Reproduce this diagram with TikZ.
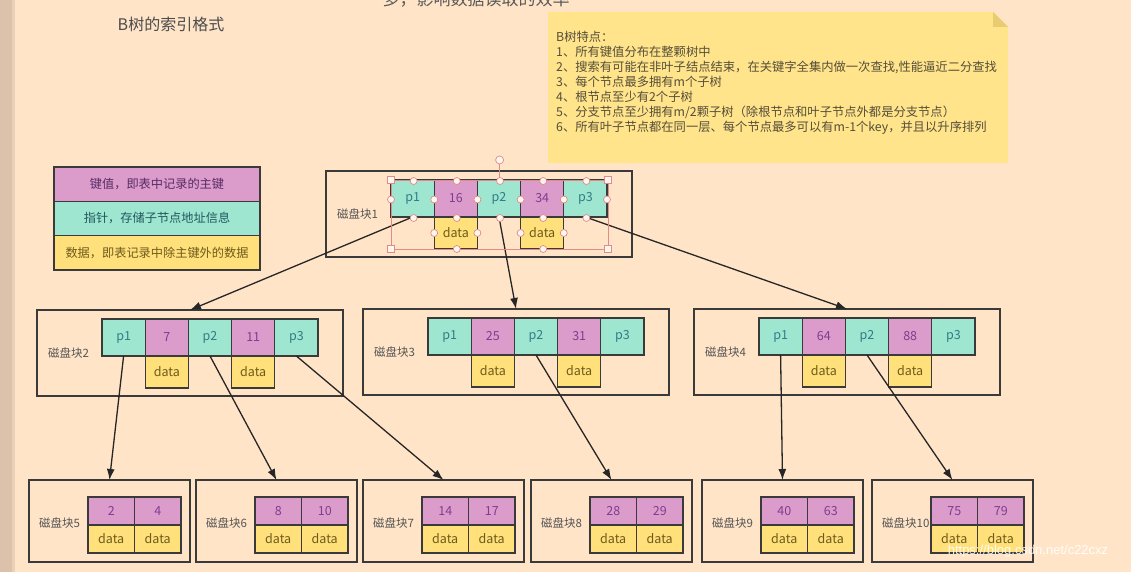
\documentclass[tikz,border=0pt]{standalone}
\usepackage{fontspec}
\setmainfont{Noto Sans CJK SC}
\newfontfamily\wmfont{Liberation Sans}
\usetikzlibrary{arrows.meta}
\definecolor{bgc}{HTML}{FFE4C8}
\definecolor{stripa}{HTML}{DCC2AA}
\definecolor{stripb}{HTML}{EBD0B8}
\definecolor{pinkc}{HTML}{DB9CCC}
\definecolor{tealc}{HTML}{9EE6D0}
\definecolor{yellc}{HTML}{FFE07A}
\definecolor{notec}{HTML}{FFE48C}
\definecolor{foldc}{HTML}{E9CC72}
\definecolor{bordc}{HTML}{3A3A3A}
\definecolor{ktext}{HTML}{7E3E8E}
\definecolor{ptext}{HTML}{2F7C86}
\definecolor{dtext}{HTML}{6E5B1C}
\definecolor{labc}{HTML}{555555}
\definecolor{notet}{HTML}{554E38}
\definecolor{handc}{HTML}{E08A8A}
\tikzset{
  cellbase/.style={draw=bordc, line width=1.2pt, inner sep=0pt, outer sep=0pt, anchor=north west, font=\fontsize{12.5}{12.5}\selectfont},
  pcell/.style={cellbase, fill=tealc, text=ptext, minimum width=43.2pt, minimum height=37pt},
  kcell/.style={cellbase, fill=pinkc, text=ktext, minimum width=43.2pt, minimum height=37pt},
  dcell/.style={cellbase, fill=yellc, text=dtext, minimum width=43.2pt, minimum height=32pt},
  boxst/.style={draw=bordc, line width=1.3pt, inner sep=0pt, outer sep=0pt, anchor=north west},
  lbl/.style={anchor=west, inner sep=0pt, text=labc, font=\fontsize{11.5}{11.5}\selectfont},
  arr/.style={draw=black!85, line width=1.3pt, -{Latex[length=11pt,width=8pt]}},
  legrow/.style={draw=bordc, line width=1.2pt, inner sep=0pt, outer sep=0pt, anchor=north west, minimum width=206pt, minimum height=34.3pt, font=\fontsize{12.2}{12.2}\selectfont},
  hcirc/.style={draw=handc, fill=white!70!bgc, line width=0.7pt},
  hsq/.style={draw=handc, fill=white!70!bgc, line width=0.7pt},
}
\newcommand\BTinner[6]{%
\begin{scope}[shift={(#2,#3)}]
  \node[boxst, minimum width=306pt, minimum height=86pt] (#1) at (0,0) {};
  \node[pcell] (#1-p1) at (65,9) {p1};
  \node[kcell] (#1-k1) at (108.2,9) {#4};
  \node[pcell] (#1-p2) at (151.4,9) {p2};
  \node[kcell] (#1-k2) at (194.6,9) {#5};
  \node[pcell] (#1-p3) at (237.8,9) {p3};
  \node[dcell] (#1-d1) at (108.2,46) {data};
  \node[dcell] (#1-d2) at (194.6,46) {data};
  \node[lbl] (#1-lbl) at (11,43) {#6};
\end{scope}}
\newcommand\BTleaf[5]{%
\begin{scope}[shift={(#2,480)}]
  \node[boxst, minimum width=161pt, minimum height=82pt] (#1) at (0,0) {};
  \node[kcell, minimum width=46.5pt, minimum height=28pt] (#1-k1) at (59,17) {#3};
  \node[kcell, minimum width=46.5pt, minimum height=28pt] (#1-k2) at (105.5,17) {#4};
  \node[dcell, minimum width=46.5pt, minimum height=28pt] (#1-d1) at (59,45) {data};
  \node[dcell, minimum width=46.5pt, minimum height=28pt] (#1-d2) at (105.5,45) {data};
  \node[lbl] (#1-lbl) at (10,43) {#5};
\end{scope}}
\begin{document}
\begin{tikzpicture}[x=1pt, y=-1pt]
\useasboundingbox (0,0) rectangle (1131,572);
\clip (0,0) rectangle (1131,572);
\fill[bgc] (0,0) rectangle (1131,572);
\fill[stripa] (0,0) rectangle (12,572);
\fill[stripb] (12,0) rectangle (15,572);

% titles
\node[text=black!70, font=\fontsize{16}{16}\selectfont] (title) at (171,24) {B树的索引格式};
\node[text=black!65, font=\fontsize{17}{17}\selectfont] (toptext) at (476,-1) {多，影响数据读取的效率};

% note
\fill[notec] (548,12) -- (993,12) -- (1008,27) -- (1008,163) -- (548,163) -- cycle;
\fill[foldc] (993,12) -- (1008,27) -- (993,27) -- cycle;
\node[anchor=north west, align=left, inner sep=0pt, text=notet, font=\fontsize{12.3}{15}\selectfont] (note) at (556,30.5) {B树特点：\\
1、所有键值分布在整颗树中\\
2、搜索有可能在非叶子结点结束，在关键字全集内做一次查找,性能逼近二分查找\\
3、每个节点最多拥有m个子树\\
4、根节点至少有2个子树\\
5、分支节点至少拥有m/2颗子树（除根节点和叶子节点外都是分支节点）\\
6、所有叶子节点都在同一层、每个节点最多可以有m-1个key，并且以升序排列};

% legend
\node[legrow, fill=pinkc, text=ktext!70!black] (leg1) at (54,167) {键值，即表中记录的主键};
\node[legrow, fill=tealc, text=ptext!70!black] (leg2) at (54,201.3) {指针，存储子节点地址信息};
\node[legrow, fill=yellc, text=dtext] (leg3) at (54,235.6) {数据，即表记录中除主键外的数据};

% blocks
\BTinner{R}{326}{171}{16}{34}{磁盘块1}
\BTinner{B2}{37}{310}{7}{11}{磁盘块2}
\BTinner{B3}{363}{309}{25}{31}{磁盘块3}
\BTinner{B4}{694}{309}{64}{88}{磁盘块4}
\BTleaf{L5}{29}{2}{4}{磁盘块5}
\BTleaf{L6}{196}{8}{10}{磁盘块6}
\BTleaf{L7}{363}{14}{17}{磁盘块7}
\BTleaf{L8}{531}{28}{29}{磁盘块8}
\BTleaf{L9}{702}{40}{63}{磁盘块9}
\BTleaf{L10}{872}{75}{79}{磁盘块10}

% connectors
\draw[arr] (R-p1.south) -- (B2.north);
\draw[arr] (R-p2.south) -- (B3.north);
\draw[arr] (R-p3.south) -- (B4.north);
\draw[arr] (B2-p1.south) -- (L5.north);
\draw[arr] (B2-p2.south) -- (L6.north);
\draw[arr] (B2-p3.south) -- (L7.north);
\draw[arr] (B3-p2.south) -- (L8.north);
\draw[arr] (B4-p1.south) -- (L9.north);
\draw[arr] (B4-p2.south) -- (L10.north);

% selection handles on root
\draw[handc, line width=0.6pt] (391,180) rectangle (608,249);
\draw[handc, line width=0.7pt] (499.6,164) -- (499.6,180);
\draw[hcirc] (499.6,160) circle (4);
\foreach \hx in {391,608} \foreach \hy in {180,249}
  \draw[hsq] (\hx-3.5,\hy-3.5) rectangle (\hx+3.5,\hy+3.5);
\foreach \hx in {413.6,456.8,500,543.2,586.4} {
  \draw[hcirc] (\hx,181) circle (3.5);
  \draw[hcirc] (\hx,218) circle (3.5);
}
\foreach \hx in {391,434.2,477.4,520.6,563.8,607} \draw[hcirc] (\hx,199.5) circle (3.5);
\foreach \hx in {434.2,477.4,520.6,563.8} \draw[hcirc] (\hx,233) circle (3.5);
\foreach \hx in {456.8,543.2} \draw[hcirc] (\hx,249) circle (3.5);

% watermark
\node[text=white, opacity=0.9, font=\wmfont\fontsize{13}{13}\selectfont] (wm) at (1028,551) {https://blog.csdn.net/c22cxz};
\end{tikzpicture}
\end{document}
